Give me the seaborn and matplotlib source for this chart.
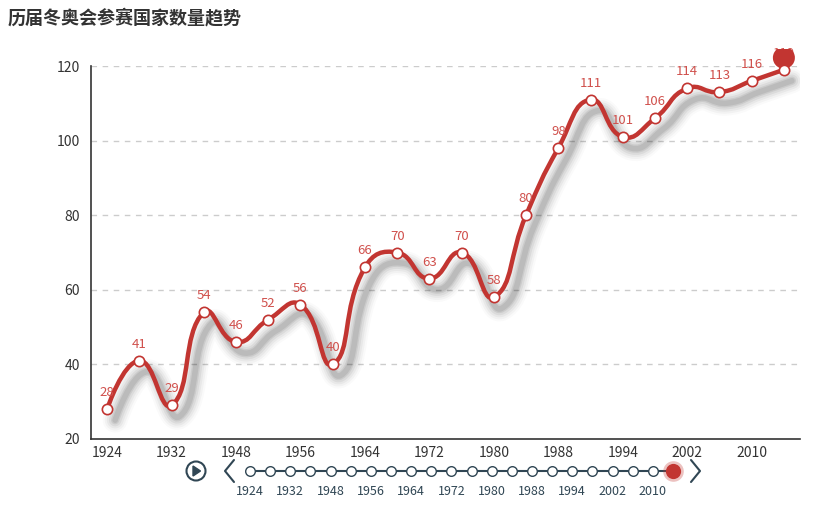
import numpy as np
import pandas as pd
import matplotlib
matplotlib.use("Agg")
import matplotlib.pyplot as plt
import seaborn as sns
from matplotlib.path import Path
from matplotlib.patches import PathPatch, Circle, Polygon, Rectangle
from matplotlib import transforms

years = ["1924", "1928", "1932", "1936", "1948", "1952", "1956", "1960", "1964", "1968",
         "1972", "1976", "1980", "1984", "1988", "1992", "1994", "1998", "2002", "2006",
         "2010", "2014"]
countries = [28, 41, 29, 54, 46, 52, 56, 40, 66, 70, 63, 70, 58, 80, 98, 111, 101, 106,
             114, 113, 116, 119]
y_ticks = [20, 40, 60, 80, 100, 120]
title = "历届冬奥会参赛国家数量趋势"

RED = "#c23531"
LBL = "#d0504c"
TL = "#304654"
TXT = "#333333"

sns.set_theme(style="white")
plt.rcParams["font.family"] = ["Noto Sans CJK SC", "DejaVu Sans"]

W, H = 831, 512
fig = plt.figure(figsize=(W / 100, H / 100), dpi=100)
fig.patch.set_facecolor("white")

L, R, T, B = 91, 800, 66, 439
ax = fig.add_axes([L / W, 1 - B / H, (R - L) / W, (B - T) / H])
ax.set_facecolor("white")

df = pd.DataFrame({"idx": np.arange(len(years)), "year": years, "n": countries})
n = len(years)
ax.set_xlim(-0.5, n - 0.5)
ax.set_ylim(y_ticks[0], y_ticks[-1])

# smooth curve (echarts-like bezier smoothing, computed in pixel space)
sx = (R - L) / n
sy = (B - T) / (y_ticks[-1] - y_ticks[0])
px = df["idx"].values * sx
py = df["n"].values * sy
smooth = 0.5
cp_before = []
cp_after = []
for i in range(n):
    prev_i = max(i - 1, 0)
    next_i = min(i + 1, n - 1)
    vx = px[next_i] - px[prev_i]
    vy = py[next_i] - py[prev_i]
    lp = np.hypot(px[i] - px[prev_i], py[i] - py[prev_i])
    ln = np.hypot(px[next_i] - px[i], py[next_i] - py[i])
    s = lp + ln
    rn = ln / s if s > 0 else 0.5
    cp_before.append((px[i] - vx * smooth * (1 - rn), py[i] - vy * smooth * (1 - rn)))
    cp_after.append((px[i] + vx * smooth * rn, py[i] + vy * smooth * rn))
verts = [(px[0], py[0])]
codes = [Path.MOVETO]
for i in range(n - 1):
    c1 = cp_after[i] if i > 0 else (px[0], py[0])
    c2 = cp_before[i + 1] if i + 1 < n - 1 else (px[-1], py[-1])
    verts += [c1, c2, (px[i + 1], py[i + 1])]
    codes += [Path.CURVE4] * 3
verts = np.array(verts)
verts[:, 0] = verts[:, 0] / sx
verts[:, 1] = verts[:, 1] / sy
curve = Path(verts, codes)

# blurred shadow
for lw, a in [(18, 0.02), (15, 0.03), (12, 0.04), (9, 0.055), (6, 0.07), (4, 0.08)]:
    off = transforms.ScaledTranslation(8 / 100, -11 / 100, fig.dpi_scale_trans)
    sp = PathPatch(curve, facecolor="none", edgecolor="black", lw=lw, alpha=a,
                   transform=ax.transData + off, zorder=2, capstyle="round", joinstyle="round")
    ax.add_patch(sp)

ax.add_patch(PathPatch(curve, facecolor="none", edgecolor=RED, lw=3.2, zorder=3,
                       capstyle="round", joinstyle="round"))

sns.scatterplot(data=df, x="idx", y="n", ax=ax, s=55, color="white", edgecolor=RED,
                linewidth=1.2, zorder=5, legend=False, clip_on=False)

for i, v in zip(df["idx"], df["n"]):
    ax.annotate(str(v), (i, v), xytext=(0, 10), textcoords="offset pixels", ha="center",
                va="bottom", color=LBL, fontsize=9.5, zorder=3.5, annotation_clip=False)

# pin (markPoint) at max, clipped at its top like the reference
fig.canvas.draw()
tx, ty = ax.transData.transform((df["idx"].iloc[-1], df["n"].iloc[-1]))
r = 11.0
D = 13.0
th = np.degrees(np.arccos(r / D))
arc = Path.arc(-90 + th, 270 - th)
av = arc.vertices * r + np.array([0, D])
pverts = np.vstack([[0, 0], av, [0, 0]])
pcodes = [Path.MOVETO] + [Path.LINETO] + list(arc.codes[1:]) + [Path.CLOSEPOLY]
pin = Path(pverts, pcodes)
pin_patch = PathPatch(pin, facecolor=RED, edgecolor="none", zorder=4,
                      transform=transforms.Affine2D().translate(tx, ty - 1))
ax.add_patch(pin_patch)
clip_rect = Rectangle((tx - 20, ty - 10), 40, 31, transform=transforms.IdentityTransform())
pin_patch.set_clip_path(clip_rect)

# axes styling
ax.set_yticks(y_ticks)
ax.set_yticklabels([str(t) for t in y_ticks])
ax.set_xticks(np.arange(-0.5, n, 2))
ax.set_xticklabels([])
ax.set_xticks(np.arange(0, n, 2), minor=True)
ax.set_xticklabels([years[i] for i in range(0, n, 2)], minor=True)
ax.tick_params(axis="x", which="major", length=5, width=1, color=TXT, direction="out")
ax.tick_params(axis="x", which="minor", length=0, pad=5, labelsize=10, labelcolor=TXT)
ax.tick_params(axis="y", length=5, width=1, color=TXT, direction="out", labelsize=10,
               labelcolor=TXT, pad=3)
for sname in ["top", "right"]:
    ax.spines[sname].set_visible(False)
for sname in ["left", "bottom"]:
    ax.spines[sname].set_color(TXT)
    ax.spines[sname].set_linewidth(1.2)
for t in y_ticks[1:]:
    ax.axhline(t, color="#cccccc", lw=1, ls=(0, (4, 4)), zorder=1)
ax.set_xlabel("")
ax.set_ylabel("")

fig.text(8 / W, 1 - 18 / H, title, fontsize=13, fontweight="bold", color="#333333",
         ha="left", va="center")

# timeline
x0, x1, yc = 250, 673, 471
axt = fig.add_axes([x0 / W, 1 - (yc + 10) / H, (x1 - x0) / W, 20 / H])
axt.set_xlim(0, n - 1)
axt.set_ylim(-1, 1)
axt.axis("off")
tl = pd.DataFrame({"i": np.arange(n), "y": np.zeros(n)})
axt.plot(tl["i"], tl["y"], color=TL, lw=1.5, zorder=1)
sns.scatterplot(data=tl.iloc[:-1], x="i", y="y", ax=axt, s=48, color="white",
                edgecolor=TL, linewidth=1, zorder=2, legend=False, clip_on=False)
axt.scatter([n - 1], [0], s=220, color=RED, alpha=0.3, zorder=2, clip_on=False, linewidths=0)
axt.scatter([n - 1], [0], s=120, color=RED, zorder=3, clip_on=False, linewidths=0)
for i in range(0, n - 1, 2):
    axt.annotate(years[i], (i, 0), xytext=(0, -14), textcoords="offset pixels",
                 ha="center", va="top", fontsize=9, color=TL, annotation_clip=False)
axt.set_xlabel("")
axt.set_ylabel("")

# controls (overlay in pixel coordinates)
axo = fig.add_axes([0, 0, 1, 1])
axo.set_xlim(0, W)
axo.set_ylim(H, 0)
axo.axis("off")
axo.add_patch(Circle((196, yc), 9.5, facecolor="none", edgecolor=TL, lw=1.5))
axo.add_patch(Polygon([[193, 466], [193, 476], [200.5, 471]], closed=True, color=TL))
axo.plot([234, 225, 234], [460, 471, 482], color=TL, lw=1.5)
axo.plot([691, 700, 691], [460, 471, 482], color=TL, lw=1.5)

fig.savefig("out.png", dpi=100, facecolor="white")
